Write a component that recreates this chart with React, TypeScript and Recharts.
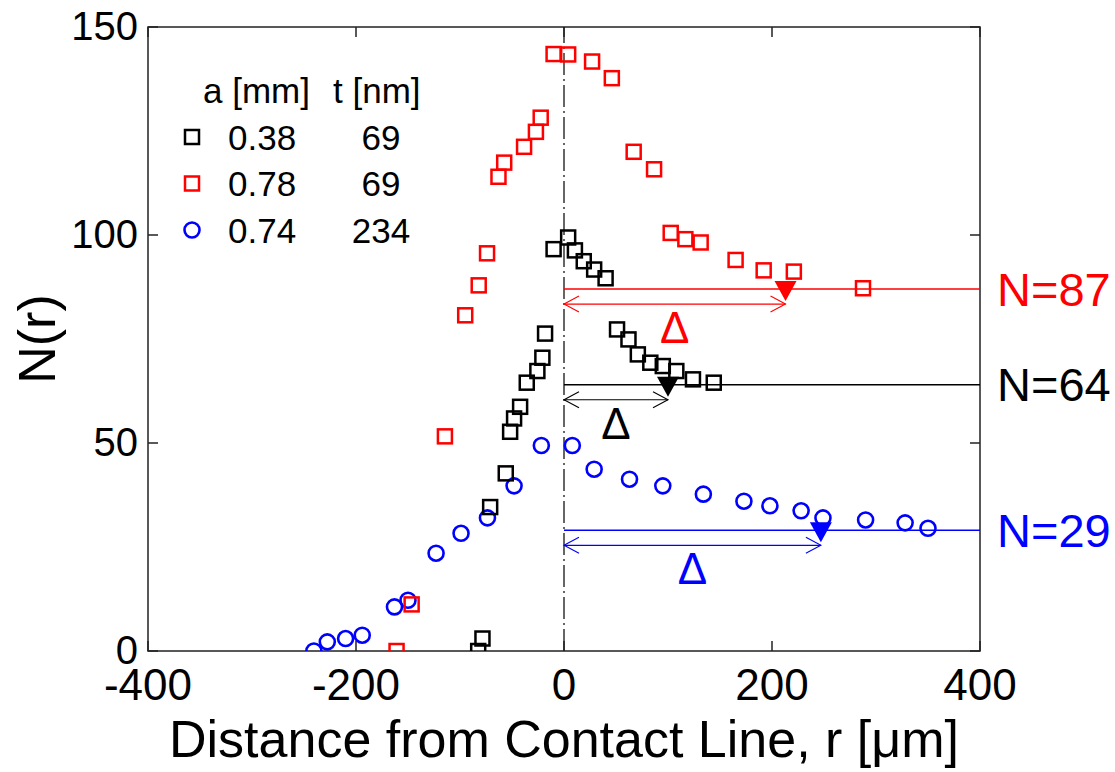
import React from 'react';
import { ScatterChart, Scatter, XAxis, YAxis, ReferenceLine, ReferenceArea } from 'recharts';

const W = 1115;
const H = 772;
const PLOT_TOP = 27;
const PLOT_BOTTOM = 651;
const PLOT_LEFT = 148;
const PLOT_RIGHT = 980;
const FONT = '"Liberation Sans", Arial, sans-serif';
const FRAME = '#222';

const xTicks = [-400, -200, 0, 200, 400];
const yTicks = [0, 50, 100, 150];

// a = 0.38 mm, t = 69 nm
const rBlack = [-82.5, -78.4, -71, -56, -51.8, -48, -42.2, -35.8, -25.6, -20.8, -18.2, -10, 4, 10.5, 19, 29, 40, 51, 62, 71, 83, 95, 108, 124, 144];
const nBlack = [0, 3, 34.6, 42.7, 52.7, 55.9, 58.7, 64.5, 67.3, 70.5, 76.3, 96.6, 99.4, 96.3, 93.7, 91.7, 89.6, 77.3, 74.9, 71.3, 69.3, 68.5, 67.3, 65.3, 64.5];

// a = 0.78 mm, t = 69 nm
const rRed = [-161, -146.5, -114.5, -95, -82, -74, -63, -57.5, -38.4, -27, -22.4, -10, 4, 27, 46, 67, 86.6, 102.6, 116.7, 131.4, 165, 192, 221, 287.5];
const nRed = [0, 11.2, 51.6, 80.7, 87.9, 95.6, 114, 117.4, 121.2, 124.8, 128.2, 143.5, 143.4, 141.7, 137.7, 120, 115.8, 100.5, 99, 98.2, 94, 91.5, 91.2, 87.2];

// a = 0.74 mm, t = 234 nm
const rBlue = [-240.5, -227.6, -210, -194, -163, -150, -123, -99, -73.6, -48, -21.8, 8, 29, 63, 95, 134, 173, 198, 228, 249, 290, 328, 350];
const nBlue = [0, 2.2, 3, 3.8, 10.6, 12.2, 23.5, 28.3, 32, 39.7, 49.4, 49.4, 43.7, 41.3, 39.7, 37.7, 36, 34.9, 33.7, 32, 31.5, 30.8, 29.5];

// legend rows and plateau / decay length per sample
const seriesA = ['0.38', '0.78', '0.74'];
const seriesT = ['69', '69', '234'];
const seriesColor = ['#000000', '#ff0000', '#0000ff'];
const seriesMarker = ['square', 'square', 'circle'];
const plateauN = [64, 87, 29];
const deltaR = [100, 213, 247];

const toPoints = (r: number[], n: number[]) => r.map((v, i) => ({ r: v, n: n[i] }));

const Square = ({ cx, cy, color }: any) => (
  <rect x={cx - 7} y={cy - 7} width={14} height={14} fill="none" stroke={color} strokeWidth={2.5} />
);
const Circle = ({ cx, cy, color }: any) => (
  <circle cx={cx} cy={cy} r={7.5} fill="none" stroke={color} strokeWidth={2.6} />
);

const XTick = ({ x, y, payload }: any) => (
  <g>
    <line x1={x} y1={PLOT_BOTTOM} x2={x} y2={PLOT_BOTTOM - 10} stroke={FRAME} strokeWidth={1.5} />
    <line x1={x} y1={PLOT_TOP} x2={x} y2={PLOT_TOP + 10} stroke={FRAME} strokeWidth={1.5} />
    <text x={x} y={y + 49} textAnchor="middle" fontSize={44} fontFamily={FONT} fill="#000">
      {payload.value}
    </text>
  </g>
);

const YTick = ({ x, y, payload }: any) => (
  <g>
    <line x1={PLOT_LEFT} y1={y} x2={PLOT_LEFT + 10} y2={y} stroke={FRAME} strokeWidth={1.5} />
    <line x1={PLOT_RIGHT} y1={y} x2={PLOT_RIGHT - 10} y2={y} stroke={FRAME} strokeWidth={1.5} />
    <text x={x - 10} y={y + 13} textAnchor="end" fontSize={40} fontFamily={FONT} fill="#000">
      {payload.value}
    </text>
  </g>
);

// double arrow from the contact line to r = Δ, with the marker and the Δ symbol
const deltaArrow = (color: string) => (p: any) => {
  const { x1, x2, y1 } = p;
  const y = y1 + 15;
  return (
    <g>
      <line x1={x1} y1={y} x2={x2} y2={y} stroke={color} strokeWidth={1.1} />
      <polyline points={`${x1 + 15},${y - 8} ${x1},${y} ${x1 + 15},${y + 8}`} fill="none" stroke={color} strokeWidth={1.1} />
      <polyline points={`${x2 - 15},${y - 8} ${x2},${y} ${x2 - 15},${y + 8}`} fill="none" stroke={color} strokeWidth={1.1} />
      <polygon points={`${x2 - 11},${y1 - 8} ${x2 + 11},${y1 - 8} ${x2},${y1 + 12}`} fill={color} />
      <text x={(x1 + x2) / 2} y={y + 39} textAnchor="middle" fontSize={44} fontFamily={FONT} fill={color}>
        Δ
      </text>
    </g>
  );
};

const XTitle = ({ viewBox }: any) => (
  <text
    x={viewBox.x + viewBox.width / 2}
    y={viewBox.y + 106}
    textAnchor="middle"
    fontSize={52}
    fontFamily={FONT}
    fill="#000"
  >
    Distance from Contact Line, r [μm]
  </text>
);

const YTitle = ({ viewBox }: any) => {
  const cx = 55;
  const cy = viewBox.y + viewBox.height / 2;
  return (
    <text x={cx} y={cy} transform={`rotate(-90, ${cx}, ${cy})`} textAnchor="middle" fontSize={52} fontFamily={FONT} fill="#000">
      N(r)
    </text>
  );
};

const LegendBox = () => (
  <svg width={W} height={H} style={{ position: 'absolute', left: 0, top: 0, pointerEvents: 'none' }}>
    <text x={203} y={103} fontSize={35} fontFamily={FONT} fill="#000">a [mm]</text>
    <text x={333} y={103} fontSize={35} fontFamily={FONT} fill="#000">t [nm]</text>
    {seriesA.map((a, i) => {
      const cy = 137 + i * 46.5;
      return (
        <g key={a + i}>
          {seriesMarker[i] === 'square' ? (
            <rect x={185} y={cy - 7} width={14} height={14} fill="none" stroke={seriesColor[i]} strokeWidth={2.5} />
          ) : (
            <circle cx={192} cy={cy} r={7.5} fill="none" stroke={seriesColor[i]} strokeWidth={2.6} />
          )}
          <text x={228} y={cy + 12.5} fontSize={35} fontFamily={FONT} fill="#000">{a}</text>
          <text x={381} y={cy + 12.5} textAnchor="middle" fontSize={35} fontFamily={FONT} fill="#000">{seriesT[i]}</text>
        </g>
      );
    })}
  </svg>
);

export default function App() {
  const black = toPoints(rBlack, nBlack);
  const red = toPoints(rRed, nRed);
  const blue = toPoints(rBlue, nBlue);

  return (
    <div style={{ position: 'absolute', left: 0, top: 0, width: W, height: H, background: '#fff' }}>
      <ScatterChart width={W} height={H} margin={{ top: PLOT_TOP, right: W - PLOT_RIGHT, bottom: 0, left: 0 }}>
        <XAxis
          type="number"
          dataKey="r"
          domain={[-400, 400]}
          ticks={xTicks}
          allowDataOverflow
          axisLine={false}
          tickLine={false}
          tickSize={0}
          tickMargin={0}
          height={H - PLOT_BOTTOM}
          tick={<XTick />}
          interval={0}
          label={<XTitle />}
        />
        <YAxis
          type="number"
          dataKey="n"
          domain={[0, 150]}
          ticks={yTicks}
          allowDataOverflow
          axisLine={false}
          tickLine={false}
          tickSize={0}
          tickMargin={0}
          width={PLOT_LEFT}
          tick={<YTick />}
          interval={0}
          label={<YTitle />}
        />
        <ReferenceArea x1={-400} x2={400} y1={0} y2={150} fill="none" stroke={FRAME} strokeWidth={1.5} />
        <ReferenceLine x={0} stroke="#000" strokeWidth={1.2} strokeDasharray="22 4 2 4" />
        {plateauN.map((n, i) => (
          <ReferenceLine
            key={'plateau' + i}
            segment={[{ x: 0, y: n }, { x: 400, y: n }]}
            stroke={seriesColor[i]}
            strokeWidth={1.5}
            label={{ value: `N=${n}`, position: 'right', offset: 17, fill: seriesColor[i], fontSize: 47, fontFamily: FONT }}
          />
        ))}
        {plateauN.map((n, i) => (
          <ReferenceLine
            key={'delta' + i}
            segment={[{ x: 0, y: n }, { x: deltaR[i], y: n }]}
            stroke={seriesColor[i]}
            shape={deltaArrow(seriesColor[i])}
          />
        ))}
        <Scatter name="0.74" data={blue} isAnimationActive={false} shape={(p: any) => <Circle cx={p.cx} cy={p.cy} color="#0000ff" />} />
        <Scatter name="0.78" data={red} isAnimationActive={false} shape={(p: any) => <Square cx={p.cx} cy={p.cy} color="#ff0000" />} />
        <Scatter name="0.38" data={black} isAnimationActive={false} shape={(p: any) => <Square cx={p.cx} cy={p.cy} color="#000000" />} />
      </ScatterChart>
      <LegendBox />
    </div>
  );
}
